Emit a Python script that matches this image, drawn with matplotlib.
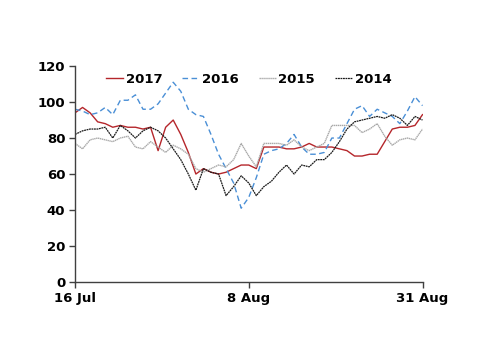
import matplotlib
matplotlib.use("Agg")
import matplotlib.pyplot as plt
import numpy as np

# daily values, 16 Jul .. 31 Aug
y2017 = [94, 97, 94, 89, 88, 86, 87, 86, 86, 85, 86, 73, 86, 90, 82, 72,
         60, 63, 61, 60, 61, 63, 65, 65, 63, 75, 75, 75, 74, 74, 75, 77,
         75, 75, 75, 74, 73, 70, 70, 71, 71, 78, 85, 86, 86, 87, 93]
y2016 = [96, 95, 93, 94, 97, 93, 101, 101, 104, 96, 96, 99, 105, 111, 106, 96,
         93, 92, 82, 71, 63, 55, 41, 47, 58, 71, 73, 74, 77, 82, 75, 71,
         71, 72, 80, 80, 88, 96, 98, 92, 96, 94, 92, 88, 95, 103, 98]
y2015 = [77, 74, 79, 80, 79, 78, 80, 81, 75, 74, 78, 75, 72, 76, 74, 71,
         63, 61, 63, 65, 64, 68, 77, 70, 64, 77, 77, 77, 76, 79, 75, 73,
         75, 77, 87, 87, 87, 87, 83, 85, 88, 81, 76, 79, 80, 79, 85]
y2014 = [82, 84, 85, 85, 86, 80, 87, 84, 80, 84, 86, 84, 80, 74, 68, 60,
         51, 63, 61, 60, 48, 53, 59, 55, 48, 53, 56, 61, 65, 60, 65, 64,
         68, 68, 72, 78, 85, 89, 90, 91, 92, 91, 93, 91, 87, 92, 90]

tick_pos = [0, 23, 46]
tick_labels = ["16 Jul", "8 Aug", "31 Aug"]

days = np.arange(len(y2017))

fig = plt.figure(figsize=(5, 3.54), dpi=100)
ax = fig.add_axes([0.15, 0.2034, 0.695, 0.61])

ax.plot(days, y2017, color="#b5262b", lw=1.0, label="2017")
ax.plot(days, y2016, color="#4a8fd6", lw=1.0, ls=(0, (4, 2.5)), label="2016")
ax.plot(days, y2015, color="#a8a8a8", lw=1.0, ls=(0, (1, 0.4)), label="2015")
ax.plot(days, y2014, color="#1a1a1a", lw=0.9, ls=(0, (1.5, 0.5)), label="2014")

ax.set_xlim(0, 46)
ax.set_ylim(0, 120)
ax.set_yticks(range(0, 121, 20))
ax.set_xticks(tick_pos)
ax.set_xticklabels(tick_labels)

for s in ["top", "right"]:
    ax.spines[s].set_visible(False)
for s in ["left", "bottom"]:
    ax.spines[s].set_color("#404040")
    ax.spines[s].set_linewidth(1.0)
ax.tick_params(direction="out", length=4, width=1, color="#404040",
               labelsize=9.5, labelcolor="black", pad=3)
for lab in ax.get_xticklabels() + ax.get_yticklabels():
    lab.set_fontweight("bold")

ax.legend(loc="upper center", bbox_to_anchor=(0.5, 1.025), ncol=4, frameon=False,
          handlelength=1.3, handletextpad=0.2, columnspacing=1.5,
          prop={"weight": "bold", "size": 9.5})

fig.savefig("out.png", dpi=100)
